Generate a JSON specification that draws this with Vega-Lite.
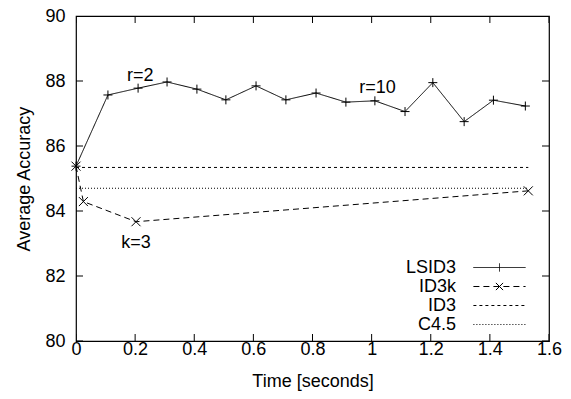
{
  "$schema": "https://vega.github.io/schema/vega-lite/v6.json",
  "width": 473,
  "height": 325,
  "autosize": {"type": "none"},
  "padding": {"left": 76, "top": 16, "right": 22, "bottom": 58},
  "background": "white",
  "config": {
    "font": "Liberation Sans",
    "view": {"stroke": "black", "strokeWidth": 1.2},
    "axis": {"domain": false, "ticks": false, "grid": false, "labelFlush": false, "labelFontSize": 18, "titleFontSize": 18, "titleFontWeight": "normal", "labelColor": "black", "titleColor": "black", "labelFont": "Liberation Sans", "titleFont": "Liberation Sans"}
  },
  "datasets": {
    "series": [
      {"series": "LSID3", "t": 0, "acc": 85.38},
      {"series": "LSID3", "t": 0.108, "acc": 87.57},
      {"series": "LSID3", "t": 0.21, "acc": 87.78},
      {"series": "LSID3", "t": 0.308, "acc": 87.97},
      {"series": "LSID3", "t": 0.409, "acc": 87.75},
      {"series": "LSID3", "t": 0.507, "acc": 87.42},
      {"series": "LSID3", "t": 0.609, "acc": 87.85},
      {"series": "LSID3", "t": 0.71, "acc": 87.42},
      {"series": "LSID3", "t": 0.812, "acc": 87.63},
      {"series": "LSID3", "t": 0.913, "acc": 87.35},
      {"series": "LSID3", "t": 1.011, "acc": 87.39},
      {"series": "LSID3", "t": 1.113, "acc": 87.06},
      {"series": "LSID3", "t": 1.207, "acc": 87.95},
      {"series": "LSID3", "t": 1.313, "acc": 86.75},
      {"series": "LSID3", "t": 1.412, "acc": 87.41},
      {"series": "LSID3", "t": 1.52, "acc": 87.23},
      {"series": "ID3k", "t": 0, "acc": 85.38},
      {"series": "ID3k", "t": 0.025, "acc": 84.29},
      {"series": "ID3k", "t": 0.203, "acc": 83.67},
      {"series": "ID3k", "t": 1.53, "acc": 84.62},
      {"series": "ID3", "t": 0, "acc": 85.34},
      {"series": "ID3", "t": 1.53, "acc": 85.34},
      {"series": "C4.5", "t": 0, "acc": 84.7},
      {"series": "C4.5", "t": 1.53, "acc": 84.7}
    ],
    "notes": [
      {"label": "r=2", "t": 0.217, "acc": 88.15},
      {"label": "r=10", "t": 1.02, "acc": 87.78},
      {"label": "k=3", "t": 0.203, "acc": 83.02}
    ],
    "xticks": [{"t": 0}, {"t": 0.2}, {"t": 0.4}, {"t": 0.6}, {"t": 0.8}, {"t": 1}, {"t": 1.2}, {"t": 1.4}, {"t": 1.6}],
    "yticks": [{"acc": 80}, {"acc": 82}, {"acc": 84}, {"acc": 86}, {"acc": 88}, {"acc": 90}]
  },
  "layer": [
    {
      "data": {"name": "series"},
      "mark": {"type": "line", "color": "black", "strokeWidth": 1},
      "encoding": {
        "x": {"field": "t", "type": "quantitative", "scale": {"domain": [0, 1.6], "nice": false, "zero": false},
          "axis": {"orient": "bottom", "title": "Time [seconds]", "values": [0, 0.2, 0.4, 0.6, 0.8, 1, 1.2, 1.4, 1.6], "format": "~g", "labelPadding": -1, "titlePadding": 14}},
        "y": {"field": "acc", "type": "quantitative", "scale": {"domain": [80, 90], "nice": false, "zero": false},
          "axis": {"orient": "left", "title": "Average Accuracy", "values": [80, 82, 84, 86, 88, 90], "labelPadding": 11, "titlePadding": 11}},
        "strokeDash": {"field": "series", "type": "nominal",
          "scale": {"domain": ["LSID3", "ID3k", "ID3", "C4.5"], "range": [[1, 0], [6, 4], [3, 3], [1, 2]]},
          "legend": {"orient": "none", "legendX": 414, "legendY": 242, "title": null, "padding": 0,
            "symbolType": "stroke", "symbolSize": 324, "symbolStrokeWidth": 1, "symbolStrokeColor": "black",
            "labelFontSize": 18, "labelColor": "black", "labelFont": "Liberation Sans", "labelAlign": "right", "labelOffset": -53, "rowPadding": -1,
            "encode": {"symbols": {"update": {"shape": {"signal": "datum.value === 'LSID3' ? 'M-2.9,0H2.9M0,-0.45V0.45' : datum.value === 'ID3k' ? 'M-2.9,0H2.9M0,0L0.4,0.4M0,0L-0.4,-0.4M0,0L-0.4,0.4M0,0L0.4,-0.4' : 'M-2.9,0H2.9'"}}}}}
        }
      }
    },
    {
      "data": {"name": "series"},
      "transform": [{"filter": "datum.series === 'LSID3' || datum.series === 'ID3k'"}],
      "mark": {"type": "point", "filled": false, "color": "black", "strokeWidth": 1, "size": 81, "opacity": 1},
      "encoding": {
        "x": {"field": "t", "type": "quantitative"},
        "y": {"field": "acc", "type": "quantitative"},
        "shape": {"field": "series", "type": "nominal",
          "scale": {"domain": ["LSID3", "ID3k"], "range": ["M-1,0H1M0,-1V1", "M-1,-1L1,1M-1,1L1,-1"]},
          "legend": null}
      }
    },
    {
      "data": {"name": "xticks"},
      "mark": {"type": "tick", "orient": "vertical", "clip": true, "color": "black", "thickness": 1, "size": 14, "opacity": 1},
      "encoding": {
        "x": {"field": "t", "type": "quantitative"},
        "y": {"datum": 80, "type": "quantitative"}
      }
    },
    {
      "data": {"name": "xticks"},
      "mark": {"type": "tick", "orient": "vertical", "clip": true, "color": "black", "thickness": 1, "size": 14, "opacity": 1},
      "encoding": {
        "x": {"field": "t", "type": "quantitative"},
        "y": {"datum": 90, "type": "quantitative"}
      }
    },
    {
      "data": {"name": "yticks"},
      "mark": {"type": "tick", "orient": "horizontal", "clip": true, "color": "black", "thickness": 1, "size": 14, "opacity": 1},
      "encoding": {
        "y": {"field": "acc", "type": "quantitative"},
        "x": {"datum": 0, "type": "quantitative"}
      }
    },
    {
      "data": {"name": "yticks"},
      "mark": {"type": "tick", "orient": "horizontal", "clip": true, "color": "black", "thickness": 1, "size": 14, "opacity": 1},
      "encoding": {
        "y": {"field": "acc", "type": "quantitative"},
        "x": {"datum": 1.6, "type": "quantitative"}
      }
    },
    {
      "data": {"name": "notes"},
      "mark": {"type": "text", "fontSize": 18, "color": "black", "font": "Liberation Sans"},
      "encoding": {
        "x": {"field": "t", "type": "quantitative"},
        "y": {"field": "acc", "type": "quantitative"},
        "text": {"field": "label"}
      }
    }
  ]
}
